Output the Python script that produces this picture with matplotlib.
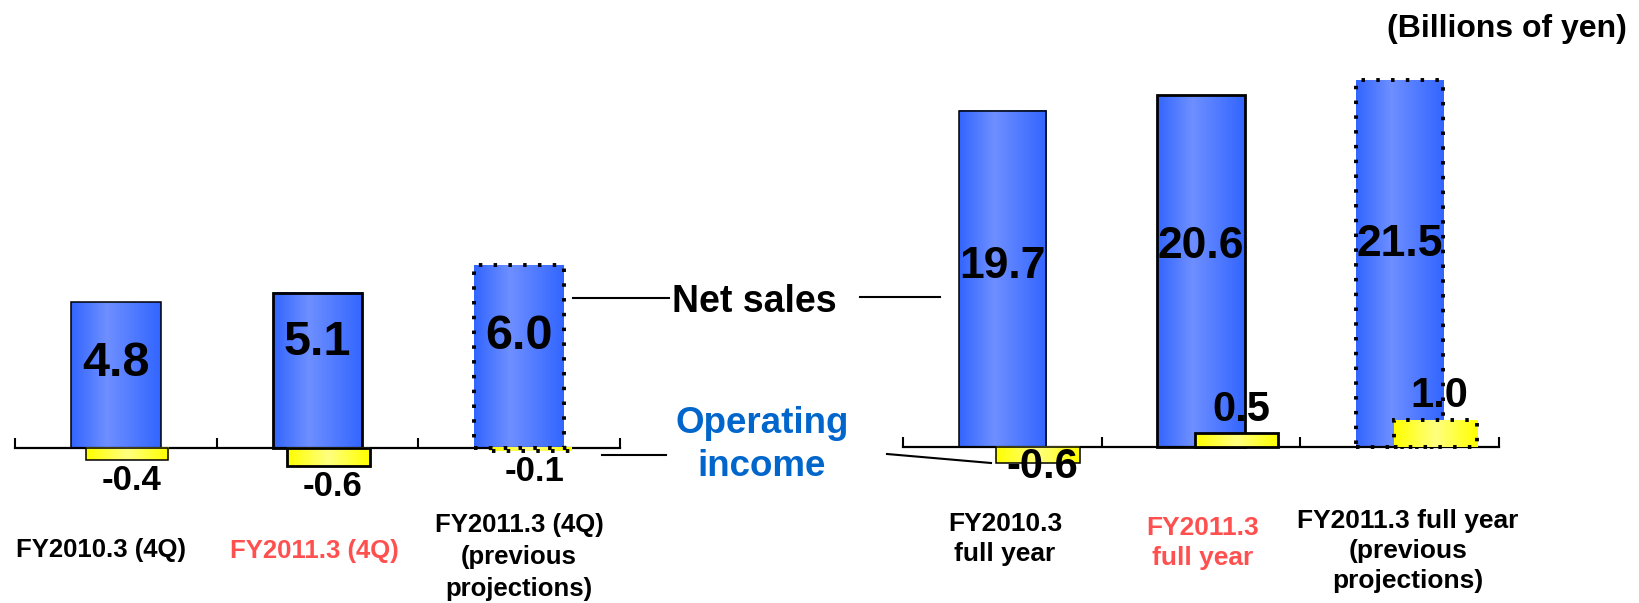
import numpy as np
import matplotlib
matplotlib.use("Agg")
import matplotlib.pyplot as plt
from matplotlib.colors import LinearSegmentedColormap

plt.rcParams['font.family'] = ['Liberation Sans', 'DejaVu Sans']
plt.rcParams['font.weight'] = 'bold'

# data (billions of yen)
q_labels = ["FY2010.3 (4Q)", "FY2011.3 (4Q)", "FY2011.3 (4Q)\n(previous\nprojections)"]
q_sales = [4.8, 5.1, 6.0]
q_income = [-0.4, -0.6, -0.1]
fy_labels = ["FY2010.3\nfull year", "FY2011.3\nfull year", "FY2011.3 full year\n(previous\nprojections)"]
fy_sales = [19.7, 20.6, 21.5]
fy_income = [-0.6, 0.5, 1.0]
projection = [False, False, True]
current = [False, True, False]

# where the big numbers sit inside the bars (fraction of bar height)
q_lab_frac = [0.58, 0.68, 0.61]
fy_lab_frac = [0.535, 0.57, 0.55]

W, H = 1639, 603
fig = plt.figure(figsize=(W / 100, H / 100), dpi=100)

blue_cm = LinearSegmentedColormap.from_list("b", [(0, "#3366FF"), (0.4, "#6E8FFF"), (1, "#3366FF")])
yell_cm = LinearSegmentedColormap.from_list("y", [(0, "#FFFF00"), (0.5, "#FFFF80"), (1, "#FFFF00")])
grad = np.linspace(0, 1, 64).reshape(1, -1)
DOTS = (0, (0.9, 2.9))
RED = "#FF5050"


def fx(x, y):
    return x / W, 1 - y / H


def panel(x0, x1):
    ax = fig.add_axes([x0 / W, 0, (x1 - x0) / W, 1])
    ax.patch.set_visible(False)
    return ax


def limits(ax, y0px, ppu):
    # zero line at pixel row y0px, ppu pixels per unit
    ax.set_xlim(0, 3)
    ax.set_ylim(-(H - y0px) / ppu, y0px / ppu)


def gbar(ax, x, h, w, cmap, dotted, thick, z):
    lw = 2.8 if dotted else (2.0 if thick else 1.1)
    b = ax.bar(x, h, width=w, facecolor="none", edgecolor="black", linewidth=lw, zorder=z + 1)[0]
    if dotted:
        b.set_linestyle(DOTS)
    ax.imshow(grad, cmap=cmap, extent=(b.get_x(), b.get_x() + w, min(0, h), max(0, h)),
              aspect="auto", interpolation="bicubic", zorder=z)
    return b


def axis_line(ax):
    for s in ax.spines.values():
        s.set_visible(False)
    sp = ax.spines["bottom"]
    sp.set_visible(True)
    sp.set_position(("data", 0))
    sp.set_bounds(0, 3)
    sp.set_linewidth(1.6)
    sp.set_zorder(3)
    ax.set_xticks([0, 1, 2, 3])
    ax.set_yticks([])
    ax.tick_params(axis="x", direction="in", length=7.5, width=1.5, labelbottom=False)


xs = np.arange(3) + 0.5

# ---- left panel: 4Q ----
axl = panel(15, 620)
axis_line(axl)
for i in range(3):
    gbar(axl, xs[i], q_sales[i], 0.446, blue_cm, projection[i], current[i], 1)
    gbar(axl, xs[i] + 0.055, q_income[i], 0.41, yell_cm, projection[i], current[i], 4)
    axl.text(xs[i], q_sales[i] * q_lab_frac[i], f"{q_sales[i]:.1f}", ha="center", va="center",
             fontsize=35, zorder=8)
    axl.annotate(f"{q_income[i]:.1f}", (xs[i] + 0.055, q_income[i]), xytext=(3, -15),
                 textcoords="offset points", ha="center", va="center", fontsize=25, zorder=8)
limits(axl, 447.7, 30.4)

# ---- right panel: full year (operating income on its own scale) ----
axr = panel(903, 1499)
axis_line(axr)
axr2 = axr.twinx()
for s in axr2.spines.values():
    s.set_visible(False)
axr2.set_yticks([])
for i in range(3):
    gbar(axr, xs[i], fy_sales[i], 0.44, blue_cm, projection[i], current[i], 1)
    gbar(axr2, xs[i] + 0.18, fy_income[i], 0.42, yell_cm, projection[i], current[i], 4)
    axr.text(xs[i], fy_sales[i] * fy_lab_frac[i], f"{fy_sales[i]:.1f}", ha="center", va="center",
             fontsize=32, zorder=8)
    dy = 17 if fy_income[i] > 0 else -3
    axr2.annotate(f"{fy_income[i]:.1f}", (xs[i] + 0.18, fy_income[i]), xytext=(3, dy),
                  textcoords="offset points", ha="center", va="center", fontsize=30, zorder=8)
limits(axr, 446.7, 17.06)
limits(axr2, 446.7, 27)

# ---- category labels ----
for lab, cur, (x, y) in zip(q_labels, current, [(101, 550), (314, 551), (519, 557)]):
    fig.text(*fx(x, y), lab, ha="center", va="center", fontsize=18.5, linespacing=1.4,
             color=RED if cur else "black")
for lab, cur, (x, y) in zip(fy_labels, current, [(1005, 539), (1203, 543), (1408, 551)]):
    fig.text(*fx(x, y), lab, ha="center", va="center", fontsize=19, linespacing=1.3,
             color=RED if cur else "black")

# ---- call-outs ----
fig.text(*fx(754, 302), "Net sales", ha="center", va="center", fontsize=27)
fig.text(*fx(762, 445), "Operating\nincome", ha="center", va="center", fontsize=26.5,
         linespacing=1.28, color="#0066CC")
for (xa, ya), (xb, yb) in [((573, 298), (669, 298)), ((860, 297), (940, 297)),
                           ((602, 455), (666, 455)), ((887, 454), (991, 463))]:
    a, b = fx(xa, ya), fx(xb, yb)
    fig.add_artist(plt.Line2D([a[0], b[0]], [a[1], b[1]], color="black", lw=1.5,
                              transform=fig.transFigure))

fig.text(*fx(1627, 29), "(Billions of yen)", ha="right", va="center", fontsize=23)

fig.savefig("out.png", dpi=100)
